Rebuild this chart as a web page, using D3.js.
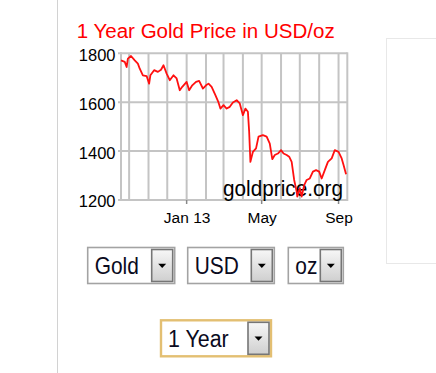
<!DOCTYPE html>
<html><head><meta charset="utf-8">
<script src="https://cdn.jsdelivr.net/npm/d3@7"></script>
<style>html,body{margin:0;padding:0;background:#fff;overflow:hidden}</style>
</head><body>
<svg id="c" width="436" height="373"></svg>
<script>
// ---- data ----
const title = "1 Year Gold Price in USD/oz";
const watermark = "goldprice.org";
const dates = ["2012-09-18","2012-09-24","2012-09-27","2012-09-29","2012-10-04","2012-10-10","2012-10-15","2012-10-18","2012-10-23","2012-10-29",
"2012-11-02","2012-11-04","2012-11-10","2012-11-16","2012-11-21","2012-11-25","2012-11-30","2012-12-05","2012-12-11","2012-12-16",
"2012-12-21","2012-12-25","2013-01-01","2013-01-05","2013-01-10","2013-01-16","2013-01-21","2013-01-27","2013-02-01","2013-02-05",
"2013-02-10","2013-02-16","2013-02-21","2013-02-24","2013-03-01","2013-03-06","2013-03-11","2013-03-16","2013-03-22","2013-03-27",
"2013-04-01","2013-04-05","2013-04-09","2013-04-11","2013-04-13","2013-04-17","2013-04-22","2013-04-26","2013-05-03","2013-05-09",
"2013-05-14","2013-05-18","2013-05-22","2013-05-27","2013-06-01","2013-06-05","2013-06-10","2013-06-14","2013-06-18","2013-06-22",
"2013-06-26","2013-06-27","2013-07-01","2013-07-04","2013-07-08","2013-07-12","2013-07-17","2013-07-22","2013-07-27","2013-08-01",
"2013-08-05","2013-08-10","2013-08-15","2013-08-21","2013-08-26","2013-09-01","2013-09-06","2013-09-09","2013-09-13"];
const prices = [1771,1765,1744,1778,1789,1771,1758,1737,1710,1707,
1676,1710,1731,1724,1733,1751,1717,1690,1710,1697,
1649,1663,1683,1649,1669,1683,1687,1656,1669,1676,
1663,1629,1599,1574,1588,1574,1581,1599,1608,1595,
1547,1574,1561,1479,1356,1397,1411,1459,1465,1459,
1431,1367,1384,1390,1404,1390,1384,1377,1356,1282,
1234,1214,1248,1214,1261,1282,1288,1316,1322,1316,
1288,1322,1356,1370,1404,1397,1370,1343,1305];
const xDomain = ["2012-09-18","2013-09-15"];
const yTicks = [1200,1400,1600,1800];
const xTickDates = ["2013-01-01","2013-05-01","2013-09-01"];
const xTickLabels = ["Jan 13","May","Sep"];
const selectLabels = ["Gold","USD","oz"];
const periodLabels = ["1 Year"];

// ---- drawing ----
const svg = d3.select("#c");
const parse = d3.utcParse("%Y-%m-%d");
const FONT = "'Liberation Sans', Arial, sans-serif";

const defs = svg.append("defs");
const g1 = defs.append("linearGradient").attr("id","btn").attr("x1",0).attr("y1",0).attr("x2",0).attr("y2",1);
g1.append("stop").attr("offset","0%").attr("stop-color","#f7f7f7");
g1.append("stop").attr("offset","100%").attr("stop-color","#cfcfcf");

// page decorations
svg.append("line").attr("x1",57.5).attr("x2",57.5).attr("y1",0).attr("y2",373).attr("stroke","#d2d2d2");
svg.append("rect").attr("x",386.5).attr("y",38.5).attr("width",80).attr("height",225).attr("fill","#fff").attr("stroke","#e8e8e8");

const x = d3.scaleUtc().domain(xDomain.map(parse)).range([121, 347.3]);
const y = d3.scaleLinear().domain([1200,1800]).range([200, 53.3]);

// title
svg.append("text").attr("x",76.7).attr("y",37.6).attr("fill","#ff0000")
  .attr("font-family",FONT).attr("font-size",20)
  .attr("textLength",258).attr("lengthAdjust","spacingAndGlyphs").text(title);

const plot = svg.append("g");
plot.append("rect").attr("x",x.range()[0]).attr("y",y.range()[1]).attr("width",x.range()[1]-x.range()[0]).attr("height",y.range()[0]-y.range()[1]).attr("fill","#fff");

// vertical month gridlines
const months = d3.utcMonth.range(x.domain()[0], x.domain()[1]);
plot.selectAll(".vg").data(months).join("line")
  .attr("x1",d=>x(d)).attr("x2",d=>x(d)).attr("y1",y(1800)).attr("y2",y(1200))
  .attr("stroke","#c4c4c4").attr("stroke-width",2);
// horizontal gridlines
plot.selectAll(".hg").data(yTicks).join("line")
  .attr("x1",x.range()[0]-3).attr("x2",x.range()[1]).attr("y1",d=>y(d)).attr("y2",d=>y(d))
  .attr("stroke","#c4c4c4").attr("stroke-width",2);
// left & right frame
[x.range()[0], x.range()[1]].forEach(v=>{
  plot.append("line").attr("x1",v).attr("x2",v).attr("y1",y(1800)-1).attr("y2",y(1200)+1)
   .attr("stroke","#c4c4c4").attr("stroke-width",2);
});
// x ticks below
plot.selectAll(".xt").data(xTickDates).join("line")
  .attr("x1",d=>x(parse(d))).attr("x2",d=>x(parse(d))).attr("y1",y(1200)).attr("y2",y(1200)+4)
  .attr("stroke","#888").attr("stroke-width",1.5);

// y labels
plot.selectAll(".yl").data(yTicks).join("text")
  .attr("x",115.5).attr("y",d=>y(d)+7.4).attr("text-anchor","end")
  .attr("font-family",FONT).attr("font-size",16.5).attr("fill","#000").text(d=>d);
// x labels
plot.selectAll(".xl").data(xTickDates).join("text")
  .attr("x",d=>x(parse(d))+0.5).attr("y",223.3).attr("text-anchor","middle")
  .attr("font-family",FONT).attr("font-size",15.5).attr("fill","#000").text((d,i)=>xTickLabels[i]);

// watermark
plot.append("text").attr("x",223).attr("y",195.5).attr("font-family",FONT).attr("font-size",22)
  .attr("fill","#000").attr("textLength",120).attr("lengthAdjust","spacingAndGlyphs").text(watermark);

// price line
const series = dates.map((d,i)=>({date:parse(d), price:prices[i]}));
plot.append("path").datum(series)
  .attr("d", d3.line().x(d=>x(d.date)).y(d=>y(d.price)))
  .attr("fill","none").attr("stroke","#ff1010").attr("stroke-width",1.8).attr("stroke-linejoin","round");

// select boxes
function drawSelect(g, bx, by, bw, bh, label, borderColor, borderW, fs, squeeze){
  g.append("rect").attr("x",bx).attr("y",by).attr("width",bw).attr("height",bh)
    .attr("fill","#fff").attr("stroke",borderColor).attr("stroke-width",borderW);
  const btnW = 21, inset = 2;
  const bxx = bx+bw-inset-btnW, byy = by+inset;
  g.append("rect").attr("x",bxx).attr("y",byy).attr("width",btnW).attr("height",bh-2*inset)
    .attr("fill","url(#btn)").attr("stroke","#767676").attr("stroke-width",1.6);
  const cx = bxx+btnW/2, cy = by+bh/2;
  g.append("path").attr("d",`M${cx-4},${cy-1.8} L${cx+4},${cy-1.8} L${cx},${cy+2.4} Z`).attr("fill","#000");
  const t = g.append("text").attr("x",bx+7).attr("y",by+bh/2+8.3).attr("font-family",FONT).attr("font-size",fs)
    .attr("fill","#0a0a20").text(label);
  const w = t.node().getComputedTextLength();
  t.attr("textLength", w*squeeze).attr("lengthAdjust","spacingAndGlyphs");
}
const selX = [87.7, 187.7, 288.3], selW = [87, 86.6, 55];
selectLabels.forEach((l,i)=>{
  drawSelect(svg.append("g"), selX[i], 247.5, selW[i], 36, l, "#a3a3a3", 1.6, 24, 0.87);
});
periodLabels.forEach(l=>{
  drawSelect(svg.append("g"), 161, 320.3, 110, 36, l, "#e3bf72", 2.4, 23, 0.93);
});
</script>
</body></html>
